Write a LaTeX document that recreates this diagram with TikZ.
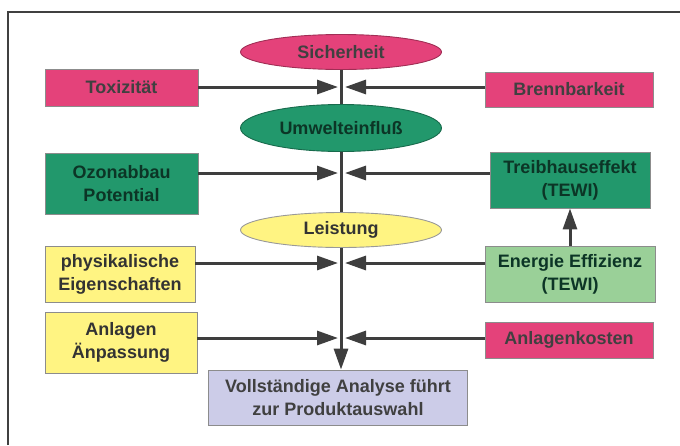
\documentclass[tikz,border=0pt]{standalone}
\usepackage{fontspec}
\setmainfont{Liberation Sans}
\usetikzlibrary{arrows.meta,shapes.geometric}
\definecolor{rosa}{RGB}{228,66,122}
\definecolor{gruen}{RGB}{34,152,108}
\definecolor{gelb}{RGB}{255,244,130}
\definecolor{hellgruen}{RGB}{154,208,152}
\definecolor{lila}{RGB}{204,204,232}
\definecolor{linie}{RGB}{62,62,62}
\begin{document}
\begin{tikzpicture}[x=1pt,y=-1pt,font=\fontsize{18}{23}\selectfont\bfseries,
  kasten/.style={rectangle,draw=black!45,line width=0.9pt,align=center,inner sep=0pt,text=black!75},
  oval/.style={ellipse,line width=0.9pt,minimum width=201pt,inner sep=0pt,text=black!75},
  pfeil/.style={draw=linie,line width=3pt,-{Triangle[length=21pt,width=14pt]}}]
\useasboundingbox (0,0) rectangle (680,445);
\draw[black!75,line width=1.5pt] (8,445) -- (8,12) -- (680,12);
% mittlere Achse
\node[oval,fill=rosa,draw=rosa!70!black,minimum height=35pt] (sich) at (341,52) {Sicherheit};
\node[oval,fill=gruen,draw=gruen!70!black,minimum height=47pt,text=gruen!35!black] (umwelt) at (341,128) {Umwelteinflu\ss};
\node[oval,fill=gelb,draw=black!40,minimum height=35pt,text=black!80] (leist) at (341,230) {Leistung};
\node[kasten,fill=lila,minimum width=259pt,minimum height=55pt] (voll) at (338,397.5) {Vollständige Analyse führt\\zur Produktauswahl};
% links
\node[kasten,fill=rosa,minimum width=153pt,minimum height=37pt] (tox) at (121.5,87.5) {Toxizität};
\node[kasten,fill=gruen,minimum width=153pt,minimum height=61pt,text=gruen!35!black] (ozon) at (121.5,183.5) {Ozonabbau\\Potential};
\node[kasten,fill=gelb,minimum width=150pt,minimum height=56pt,text=black!80] (phys) at (120,274) {physikalische\\Eigenschaften};
\node[kasten,fill=gelb,minimum width=152pt,minimum height=61pt,text=black!80] (anl) at (121,342.5) {Anlagen\\Änpassung};
% rechts
\node[kasten,fill=rosa,minimum width=168pt,minimum height=35pt] (brenn) at (569,89.5) {Brennbarkeit};
\node[kasten,fill=gruen,minimum width=160pt,minimum height=56pt,text=gruen!35!black] (treib) at (570,180) {Treibhauseffekt\\(TEWI)};
\node[kasten,fill=hellgruen,minimum width=170pt,minimum height=56pt,text=gruen!35!black] (energie) at (570,274) {Energie Effizienz\\(TEWI)};
\node[kasten,fill=rosa,minimum width=168pt,minimum height=36pt] (kosten) at (569,340) {Anlagenkosten};
% Verbindungen
\draw[draw=linie,line width=3pt] (sich) -- (umwelt);
\draw[draw=linie,line width=3pt] (umwelt) -- (leist);
\draw[pfeil] (leist) -- (leist |- voll.north);
\draw[pfeil] (energie) -- (treib);
\foreach \li/\re/\y [count=\i] in {tox/brenn/87,ozon/treib/173,phys/energie/263,anl/kosten/338}{
  \coordinate (l\i) at (338,\y);
  \coordinate (r\i) at (345,\y);
  \draw[pfeil] (\li.east |- l\i) -- (l\i);
  \draw[pfeil] (\re.west |- r\i) -- (r\i);
}
\end{tikzpicture}
\end{document}
